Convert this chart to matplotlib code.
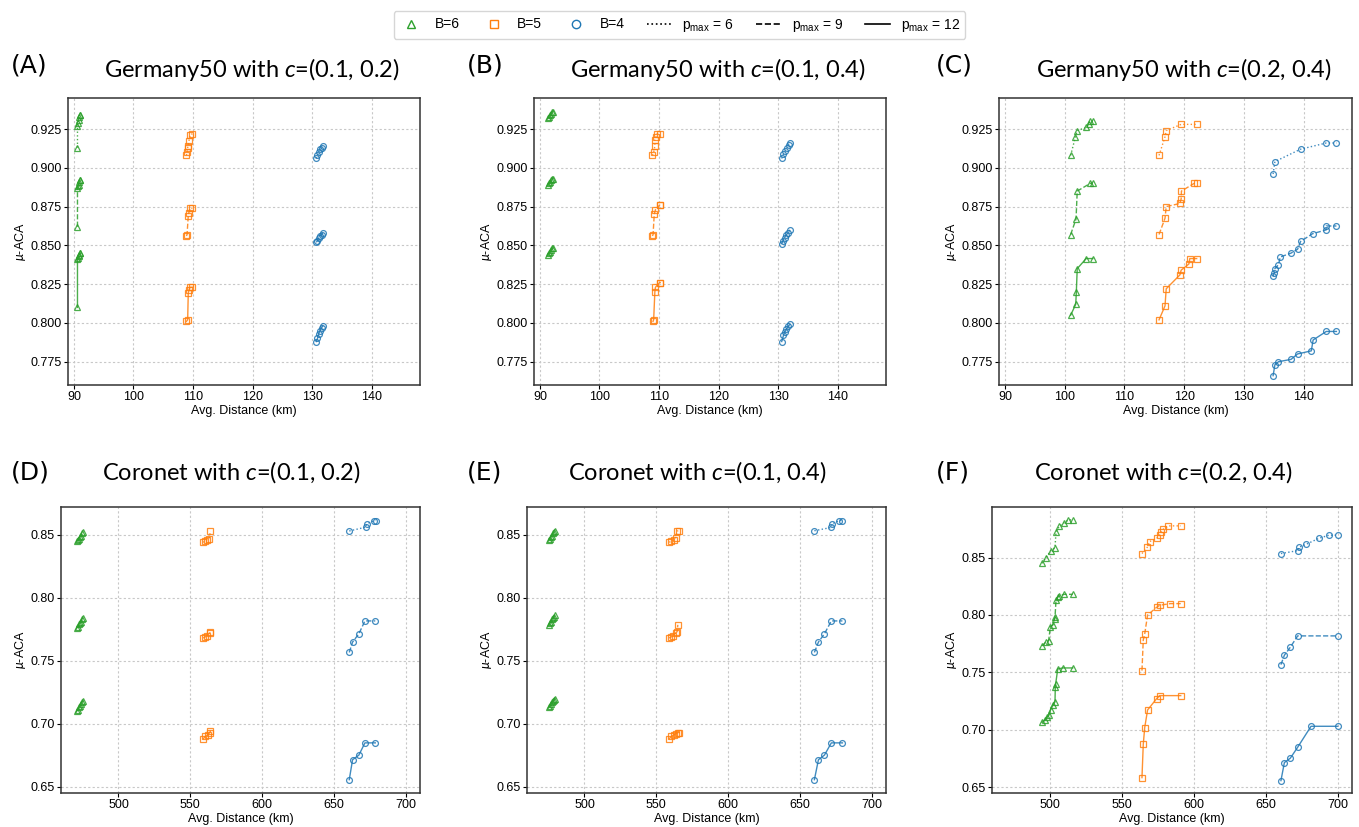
import matplotlib
matplotlib.use("Agg")
import matplotlib.pyplot as plt
from matplotlib.lines import Line2D

plt.rcParams["font.family"] = ["Liberation Sans", "DejaVu Sans"]
plt.rcParams["mathtext.fontset"] = "custom"
plt.rcParams["mathtext.rm"] = "Lato"
plt.rcParams["mathtext.it"] = "Lato:italic"

GREEN = "#2ca02c"
ORANGE = "#ff7f0e"
BLUE = "#1f77b4"

# ---- data: (avg distance, mu-ACA) per budget B and p_max ----
# (A) Germany50, c=(0.1, 0.2)
A_b6_p6 = [(90.6, 0.913), (90.6, 0.927), (90.7, 0.929), (90.8, 0.931), (90.9, 0.933), (91.0, 0.934), (91.1, 0.934)]
A_b6_p9 = [(90.6, 0.862), (90.6, 0.887), (90.7, 0.888), (90.8, 0.889), (90.9, 0.891), (91.0, 0.892), (91.1, 0.892)]
A_b6_p12 = [(90.6, 0.810), (90.6, 0.841), (90.7, 0.842), (90.8, 0.843), (90.9, 0.844), (91.0, 0.845), (91.1, 0.845)]
A_b5_p6 = [(108.9, 0.908), (109.0, 0.910), (109.1, 0.913), (109.2, 0.914), (109.3, 0.917), (109.5, 0.921), (109.9, 0.922)]
A_b5_p9 = [(108.9, 0.856), (109.0, 0.857), (109.2, 0.869), (109.3, 0.871), (109.5, 0.874), (109.9, 0.874)]
A_b5_p12 = [(108.9, 0.801), (109.1, 0.802), (109.2, 0.819), (109.3, 0.821), (109.5, 0.823), (109.9, 0.823)]
A_b4_p6 = [(130.7, 0.906), (130.9, 0.908), (131.1, 0.910), (131.3, 0.912), (131.6, 0.913), (131.8, 0.914)]
A_b4_p9 = [(130.7, 0.852), (130.9, 0.853), (131.1, 0.855), (131.3, 0.856), (131.6, 0.857), (131.8, 0.858)]
A_b4_p12 = [(130.7, 0.788), (130.9, 0.790), (131.1, 0.793), (131.3, 0.795), (131.6, 0.797), (131.8, 0.798)]

# (B) Germany50, c=(0.1, 0.4)
B_b6_p6 = [(91.3, 0.932), (91.5, 0.933), (91.7, 0.934), (91.9, 0.935), (92.1, 0.936), (92.2, 0.936)]
B_b6_p9 = [(91.3, 0.889), (91.5, 0.890), (91.7, 0.891), (91.9, 0.892), (92.1, 0.893), (92.2, 0.893)]
B_b6_p12 = [(91.3, 0.844), (91.5, 0.845), (91.7, 0.846), (91.9, 0.847), (92.1, 0.848), (92.2, 0.848)]
B_b5_p6 = [(108.9, 0.908), (109.1, 0.910), (109.3, 0.914), (109.3, 0.918), (109.5, 0.920), (109.7, 0.922), (110.2, 0.922)]
B_b5_p9 = [(108.9, 0.856), (109.0, 0.857), (109.2, 0.870), (109.4, 0.873), (110.1, 0.876), (110.2, 0.876)]
B_b5_p12 = [(109.0, 0.801), (109.1, 0.802), (109.3, 0.820), (109.4, 0.823), (110.1, 0.826), (110.2, 0.826)]
B_b4_p6 = [(130.6, 0.906), (130.9, 0.909), (131.2, 0.911), (131.5, 0.913), (131.8, 0.915), (132.0, 0.916)]
B_b4_p9 = [(130.6, 0.851), (130.8, 0.853), (131.1, 0.855), (131.4, 0.857), (131.7, 0.858), (132.0, 0.860)]
B_b4_p12 = [(130.6, 0.788), (130.9, 0.792), (131.1, 0.794), (131.4, 0.796), (131.7, 0.798), (132.0, 0.799)]

# (C) Germany50, c=(0.2, 0.4)
C_b6_p6 = [(101.0, 0.908), (101.8, 0.920), (102.1, 0.924), (103.6, 0.926), (104.0, 0.928), (104.2, 0.930), (104.7, 0.930)]
C_b6_p9 = [(101.0, 0.857), (101.9, 0.867), (102.1, 0.885), (104.3, 0.890), (104.7, 0.890)]
C_b6_p12 = [(101.0, 0.805), (101.85, 0.812), (101.95, 0.820), (102.1, 0.835), (103.6, 0.8415), (104.7, 0.8415)]
C_b5_p6 = [(115.8, 0.908), (116.8, 0.920), (117.0, 0.924), (119.5, 0.928), (122.1, 0.928)]
C_b5_p9 = [(115.8, 0.857), (116.8, 0.8675), (117.0, 0.875), (119.3, 0.877), (119.5, 0.880), (119.55, 0.885), (121.7, 0.890), (122.1, 0.890)]
C_b5_p12 = [(115.8, 0.802), (116.8, 0.811), (117.0, 0.822), (119.3, 0.831), (119.5, 0.834), (120.8, 0.838), (120.95, 0.8415), (122.1, 0.8415)]
C_b4_p6 = [(134.9, 0.896), (135.2, 0.904), (139.5, 0.912), (143.8, 0.916), (145.5, 0.916)]
C_b4_p9 = [(134.9, 0.830), (135.1, 0.8325), (135.2, 0.835), (135.8, 0.8375), (136.1, 0.8425), (137.9, 0.845), (139.0, 0.8475),
           (139.5, 0.8525), (141.5, 0.8575), (143.8, 0.860), (143.8, 0.8625), (145.5, 0.8625)]
C_b4_p12 = [(134.9, 0.766), (135.2, 0.773), (135.8, 0.775), (137.9, 0.7765), (139.0, 0.780), (141.3, 0.782), (141.6, 0.789),
            (143.8, 0.7945), (145.5, 0.7945)]

# (D) Coronet, c=(0.1, 0.2)
D_b6_p6 = [(470.8, 0.845), (471.5, 0.846), (472.3, 0.847), (473.0, 0.848), (473.8, 0.849), (474.5, 0.851), (475.3, 0.852)]
D_b6_p9 = [(470.8, 0.776), (471.5, 0.777), (472.3, 0.779), (473.0, 0.780), (473.8, 0.781), (474.5, 0.783), (475.3, 0.784)]
D_b6_p12 = [(470.8, 0.710), (471.5, 0.711), (472.3, 0.713), (473.0, 0.714), (473.8, 0.716), (474.5, 0.717), (475.3, 0.718)]
D_b5_p6 = [(559.0, 0.844), (560.3, 0.845), (561.5, 0.846), (563.2, 0.847), (564.0, 0.853)]
D_b5_p9 = [(559.0, 0.768), (560.5, 0.769), (561.5, 0.770), (563.5, 0.772), (564.0, 0.7725)]
D_b5_p12 = [(559.0, 0.688), (560.5, 0.690), (562.0, 0.691), (563.5, 0.693), (564.0, 0.694)]
D_b4_p6 = [(660.7, 0.853), (672.1, 0.856), (673.0, 0.8587), (678.1, 0.8613), (679.0, 0.8613)]
D_b4_p9 = [(660.7, 0.7566), (663.0, 0.7648), (667.4, 0.7714), (671.6, 0.7816), (678.8, 0.7816)]
D_b4_p12 = [(660.7, 0.6556), (663.0, 0.6714), (667.4, 0.6751), (671.6, 0.6848), (678.8, 0.6848)]

# (E) Coronet, c=(0.1, 0.4)
E_b6_p6 = [(475.0, 0.846), (475.8, 0.847), (476.5, 0.848), (477.2, 0.849), (478.0, 0.851), (478.7, 0.852), (479.2, 0.853)]
E_b6_p9 = [(475.0, 0.778), (475.8, 0.780), (476.5, 0.781), (477.2, 0.783), (478.0, 0.784), (478.7, 0.785), (479.2, 0.786)]
E_b6_p12 = [(475.0, 0.713), (475.8, 0.714), (476.5, 0.716), (477.2, 0.717), (478.0, 0.718), (478.7, 0.719), (479.2, 0.720)]
E_b5_p6 = [(559.0, 0.844), (560.5, 0.845), (562.0, 0.846), (563.5, 0.8475), (564.5, 0.853), (566.0, 0.853)]
E_b5_p9 = [(559.0, 0.768), (560.5, 0.769), (561.5, 0.7695), (563.5, 0.772), (564.5, 0.773), (565.0, 0.7785)]
E_b5_p12 = [(559.0, 0.688), (560.5, 0.690), (562.0, 0.691), (563.5, 0.692), (565.0, 0.693), (566.0, 0.693)]
E_b4_p6 = [(660.1, 0.8532), (671.9, 0.8558), (672.6, 0.8587), (677.5, 0.8613), (679.6, 0.8613)]
E_b4_p9 = [(660.1, 0.7566), (662.9, 0.7648), (667.1, 0.7714), (671.9, 0.7816), (679.6, 0.7816)]
E_b4_p12 = [(660.1, 0.6556), (662.9, 0.6714), (667.1, 0.6751), (671.9, 0.6848), (679.6, 0.6848)]

# (F) Coronet, c=(0.2, 0.4)
F_b6_p6 = [(494.7, 0.845), (497.5, 0.850), (500.7, 0.8558), (503.7, 0.8587), (504.4, 0.8721), (506.7, 0.8773),
           (510.0, 0.8802), (513.0, 0.8828), (516.0, 0.8828)]
F_b6_p9 = [(494.7, 0.7731), (497.7, 0.7768), (499.3, 0.7777), (500.5, 0.7899), (502.3, 0.7913), (503.5, 0.7966),
           (503.7, 0.798), (504.4, 0.8128), (505.6, 0.8155), (506.7, 0.8166), (510.0, 0.818), (516.0, 0.818)]
F_b6_p12 = [(494.7, 0.7066), (497.0, 0.7086), (498.1, 0.711), (499.5, 0.7127), (500.7, 0.7176), (502.3, 0.7217),
            (503.7, 0.7243), (503.9, 0.7371), (504.2, 0.7403), (505.6, 0.753), (509.0, 0.7539), (516.0, 0.7539)]
F_b5_p6 = [(564.1, 0.8535), (567.8, 0.859), (569.4, 0.8639), (574.3, 0.8668), (576.4, 0.8695), (577.1, 0.8721),
           (578.9, 0.8747), (582.4, 0.8776), (591.0, 0.8776)]
F_b5_p9 = [(564.1, 0.7516), (565.0, 0.7783), (566.0, 0.7835), (568.0, 0.800), (574.3, 0.8067), (576.4, 0.8085),
           (583.8, 0.8099), (591.0, 0.8099)]
F_b5_p12 = [(564.1, 0.6584), (565.0, 0.6874), (566.0, 0.702), (568.0, 0.7173), (574.3, 0.7272), (576.4, 0.7298), (591.0, 0.7298)]
F_b4_p6 = [(660.6, 0.8535), (672.5, 0.8561), (673.1, 0.859), (678.2, 0.8616), (687.0, 0.8668), (694.0, 0.8695), (700.2, 0.8695)]
F_b4_p9 = [(660.6, 0.7568), (663.0, 0.765), (667.1, 0.7719), (672.2, 0.7818), (700.0, 0.7818)]
F_b4_p12 = [(660.6, 0.6558), (663.0, 0.6715), (667.1, 0.6753), (672.2, 0.6848), (681.5, 0.7031), (700.0, 0.7031)]

PANELS = [
    ("(A)", "Germany50 with $c$=(0.1, 0.2)", [A_b6_p6, A_b6_p9, A_b6_p12, A_b5_p6, A_b5_p9, A_b5_p12, A_b4_p6, A_b4_p9, A_b4_p12]),
    ("(B)", "Germany50 with $c$=(0.1, 0.4)", [B_b6_p6, B_b6_p9, B_b6_p12, B_b5_p6, B_b5_p9, B_b5_p12, B_b4_p6, B_b4_p9, B_b4_p12]),
    ("(C)", "Germany50 with $c$=(0.2, 0.4)", [C_b6_p6, C_b6_p9, C_b6_p12, C_b5_p6, C_b5_p9, C_b5_p12, C_b4_p6, C_b4_p9, C_b4_p12]),
    ("(D)", "Coronet with $c$=(0.1, 0.2)", [D_b6_p6, D_b6_p9, D_b6_p12, D_b5_p6, D_b5_p9, D_b5_p12, D_b4_p6, D_b4_p9, D_b4_p12]),
    ("(E)", "Coronet with $c$=(0.1, 0.4)", [E_b6_p6, E_b6_p9, E_b6_p12, E_b5_p6, E_b5_p9, E_b5_p12, E_b4_p6, E_b4_p9, E_b4_p12]),
    ("(F)", "Coronet with $c$=(0.2, 0.4)", [F_b6_p6, F_b6_p9, F_b6_p12, F_b5_p6, F_b5_p9, F_b5_p12, F_b4_p6, F_b4_p9, F_b4_p12]),
]

# axes boxes in figure fraction (left, bottom, width, height)
BOXES = [
    (0.0500, 0.5345, 0.2590, 0.347),
    (0.3929, 0.5345, 0.2590, 0.347),
    (0.7351, 0.5345, 0.2597, 0.347),
    (0.0449, 0.0411, 0.2642, 0.3458),
    (0.3878, 0.0411, 0.2642, 0.3458),
    (0.7300, 0.0411, 0.2649, 0.3458),
]
XLIMS = [(89.0, 148.1)] * 3 + [(460, 710)] * 3
YLIMS = [(0.760, 0.945)] * 3 + [(0.645, 0.872), (0.645, 0.872), (0.645, 0.894)]
LETTER_X = [11, 467, 936]

STYLES = [(GREEN, "^"), (ORANGE, "s"), (BLUE, "o")]
LINES = [":", "--", "-"]

fig = plt.figure(figsize=(13.59, 8.27), dpi=100)

for i, (letter, title, series) in enumerate(PANELS):
    top_row = i < 3
    ax = fig.add_axes(BOXES[i])
    for k, pts in enumerate(series):
        color, marker = STYLES[k // 3]
        xs = [p[0] for p in pts]
        ys = [p[1] for p in pts]
        ax.plot(xs, ys, color=color, ls=LINES[k % 3], lw=1.0, marker=marker, ms=4.2,
                mfc="none", mew=0.9, alpha=0.85)
    ax.set_xlim(*XLIMS[i])
    ax.set_ylim(*YLIMS[i])
    ax.grid(True, ls=(0, (2, 2)), color="#c8c8c8", lw=0.8)
    ax.set_axisbelow(True)
    ax.tick_params(labelsize=9, length=3, pad=1.5)
    for sp in ax.spines.values():
        sp.set_color("#333333")
        sp.set_linewidth(1.1)
    ax.set_xlabel("Avg. Distance (km)", fontsize=9, labelpad=1.5)
    ax.set_ylabel(r"$\mu$-ACA", fontsize=9, labelpad=2)
    ax.set_title(title, fontsize=17, family="Lato", pad=15 if top_row else 20,
                 x=0.523 if top_row else 0.475)
    fig.text(LETTER_X[i % 3] / 1359, 1 - (65 if top_row else 473) / 827, letter,
             fontsize=18, family="DejaVu Sans", ha="left", va="center")

handles = [
    Line2D([], [], color=GREEN, marker="^", ls="none", mfc="none", ms=6),
    Line2D([], [], color=ORANGE, marker="s", ls="none", mfc="none", ms=6),
    Line2D([], [], color=BLUE, marker="o", ls="none", mfc="none", ms=6),
    Line2D([], [], color="black", ls=":", lw=1.2),
    Line2D([], [], color="black", ls="--", lw=1.2),
    Line2D([], [], color="black", ls="-", lw=1.2),
]
labels = ["B=6", "B=5", "B=4", r"$\mathregular{p_{max}}$ = 6",
          r"$\mathregular{p_{max}}$ = 9", r"$\mathregular{p_{max}}$ = 12"]
fig.legend(handles, labels, loc="upper center", bbox_to_anchor=(0.5, 1 - 4 / 827), ncol=6,
           fontsize=10, frameon=True, handlelength=1.75, columnspacing=1.6, handletextpad=0.8)

fig.savefig("out.png", dpi=100, facecolor="white")
